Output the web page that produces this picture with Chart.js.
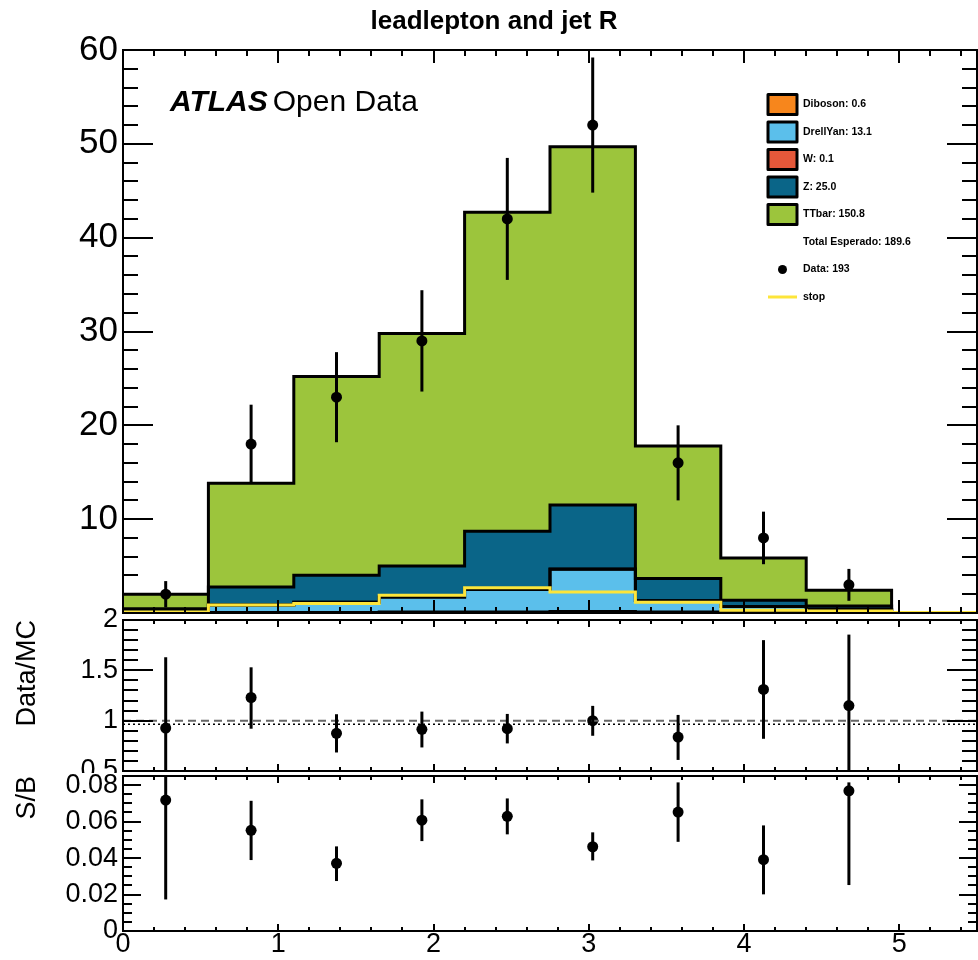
<!DOCTYPE html>
<html>
<head>
<meta charset="utf-8">
<script src="https://cdn.jsdelivr.net/npm/chart.js@4/dist/chart.umd.min.js"></script>
<style>
html,body{margin:0;padding:0;background:#fff;}
#wrap{position:relative;width:978px;height:960px;overflow:hidden;background:#fff;}
canvas{position:absolute;left:0;}
</style>
</head>
<body>
<div id="wrap">
<canvas id="cMain" width="978" height="614" style="top:0px"></canvas>
<canvas id="cRatio" width="978" height="176" style="top:600px"></canvas>
<canvas id="cSB" width="978" height="187" style="top:773px"></canvas>
</div>
<script>
// ---------------- data ----------------
const plotTitle = 'leadlepton and jet R';
const binEdges  = [0, 0.55, 1.1, 1.65, 2.2, 2.75, 3.3, 3.85, 4.4, 4.95, 5.5];

const diboson  = [0, 0.05, 0.05, 0.1, 0.1, 0.15, 0.1, 0.05, 0, 0];
const drellYan = [0.1, 0.8, 1.1, 1.6, 2.4, 4.5, 1.2, 0.65, 0.4, 0];
const wJets    = [0, 0, 0, 0, 0.05, 0.05, 0, 0, 0, 0];
const zJets    = [0.35, 1.93, 2.88, 3.3, 6.15, 6.8, 2.37, 0.66, 0.35, 0];
const ttbar    = [1.55, 11.06, 21.17, 24.8, 34.0, 38.2, 14.13, 4.49, 1.68, 0];
const stopSig  = [0.1, 0.85, 1.0, 1.9, 2.7, 2.25, 1.15, 0.3, 0.2, 0.05];

const dataCounts = [2, 18, 23, 29, 42, 52, 16, 8, 3];
const dataErrLo  = [0.6, 13.8, 18.2, 23.6, 35.5, 44.8, 12.0, 5.2, 1.3];
const dataErrHi  = [3.4, 22.2, 27.8, 34.4, 48.5, 59.2, 20.0, 10.8, 4.7];

const ratioVals = [0.927, 1.23, 0.874, 0.914, 0.92, 1.0, 0.837, 1.31, 1.15];
const ratioLo   = [0.2, 0.92, 0.684, 0.734, 0.774, 0.85, 0.61, 0.82, 0.44];
const ratioHi   = [1.63, 1.53, 1.064, 1.09, 1.067, 1.147, 1.057, 1.80, 1.855];
const ratioRef  = 1;
const mcOverData = 0.964;

const sbVals = [0.0718, 0.0552, 0.0371, 0.0608, 0.0629, 0.0462, 0.0652, 0.0391, 0.0769];
const sbLo   = [0.0173, 0.0389, 0.0274, 0.0493, 0.053, 0.0387, 0.0489, 0.0201, 0.0252];
const sbHi   = [0.126, 0.0714, 0.0464, 0.0722, 0.0727, 0.0541, 0.0815, 0.0579, 0.0815];

const legendLabels = ['Diboson', 'DrellYan', 'W', 'Z', 'TTbar'];
const legendTotals = ['0.6', '13.1', '0.1', '25.0', '150.8'];
const totalExpected = '189.6';
const dataTotal = '193';

const yMainTicks = [0, 60, 10];
const yRatioTicks = [0.5, 2, 0.5];
const ySBTicks = [0, 0.085, 0.02];
const xTicks = [0, 5.5, 1];

// ---------------- styles ----------------
const FONT = '"Liberation Sans", Arial, Helvetica, sans-serif';
const colors = ['#f7861c', '#5bbfeb', '#e5583a', '#0a6588', '#9cc53c'];
const stopColor = '#fde53a';

function stepPoints(vals){ return binEdges.map((e,i)=>({x:e, y: vals[Math.min(i, vals.length-1)]})); }
function centerPoints(vals){ return vals.map((v,i)=>({x:(binEdges[i]+binEdges[i+1])/2, y:v})); }
function fmt(v){ return String(+v.toFixed(4)); }

const bgPlugin = {id:'bg', beforeDraw(chart, args, o){
  if(!o || !o.color) return;
  const c = chart.ctx; c.save(); c.fillStyle = o.color; c.fillRect(0,0,chart.width,chart.height); c.restore();
}};

const errPlugin = {id:'errbars', afterDatasetsDraw(chart){
  const {ctx, chartArea:a, scales} = chart;
  ctx.save();
  ctx.beginPath(); ctx.rect(a.left, a.top, a.right-a.left, a.bottom-a.top); ctx.clip();
  ctx.strokeStyle = '#000'; ctx.lineWidth = 3;
  chart.data.datasets.forEach(ds=>{
    if(!ds.errLo) return;
    const ys = scales.y, xs = scales.x;
    ds.data.forEach((p,i)=>{
      const px = xs.getPixelForValue(p.x);
      ctx.beginPath();
      ctx.moveTo(px, ys.getPixelForValue(ds.errLo[i]));
      ctx.lineTo(px, ys.getPixelForValue(ds.errHi[i]));
      ctx.stroke();
    });
  });
  ctx.restore();
}};

const framePlugin = {id:'frame', afterDatasetsDraw(chart, args, o){
  const {ctx, chartArea:a, scales:{x, y}} = chart;
  ctx.save(); ctx.strokeStyle = '#000'; ctx.lineWidth = 2;
  ctx.beginPath();
  const nx = Math.round((x.max - x.min)/o.xMinor);
  for(let k=0;k<=nx;k++){
    const v = x.min + k*o.xMinor;
    const maj = Math.abs(v/o.xMajor - Math.round(v/o.xMajor)) < 1e-6;
    const L = maj ? o.xMajorLen : o.xMinorLen;
    const px = Math.round(x.getPixelForValue(v));
    ctx.moveTo(px, a.bottom); ctx.lineTo(px, a.bottom - L);
    ctx.moveTo(px, a.top); ctx.lineTo(px, a.top + L);
  }
  const ny = Math.round((y.max - y.min)/o.yMinor);
  for(let k=0;k<=ny;k++){
    const v = y.min + k*o.yMinor;
    const maj = Math.abs(v/o.yMajor - Math.round(v/o.yMajor)) < 1e-6;
    const L = maj ? o.yMajorLen : o.yMinorLen;
    const py = Math.round(y.getPixelForValue(v));
    ctx.moveTo(a.left, py); ctx.lineTo(a.left + L, py);
    ctx.moveTo(a.right, py); ctx.lineTo(a.right - L, py);
  }
  ctx.stroke();
  ctx.strokeRect(a.left, a.top, a.right-a.left, a.bottom-a.top);
  ctx.restore();
}};

const decorPlugin = {id:'decor', afterDraw(chart){
  const ctx = chart.ctx;
  ctx.save();
  ctx.fillStyle = '#000';
  ctx.font = 'bold 26px ' + FONT; ctx.textAlign = 'center'; ctx.textBaseline = 'alphabetic';
  ctx.fillText(plotTitle, 494, 29);
  ctx.textAlign = 'left';
  ctx.font = 'italic bold 30px ' + FONT;
  ctx.fillText('ATLAS', 170, 111);
  const w = ctx.measureText('ATLAS').width;
  ctx.font = '30px ' + FONT;
  ctx.fillText('Open Data', 170 + w + 5, 111);
  // legend
  const rowY = [104.5, 132, 159.5, 187, 214.5, 242, 269.5, 297];
  ctx.font = 'bold 10.5px ' + FONT; ctx.textBaseline = 'middle';
  legendLabels.forEach((lab,i)=>{
    const yy = rowY[i];
    ctx.fillStyle = colors[i]; ctx.fillRect(768, yy-10, 29, 20);
    ctx.strokeStyle = '#000'; ctx.lineWidth = 3; ctx.lineJoin = 'round';
    ctx.strokeRect(768, yy-10, 29, 20);
    ctx.fillStyle = '#000';
    ctx.fillText(lab + ': ' + legendTotals[i], 803, yy);
  });
  ctx.fillText('Total Esperado: ' + totalExpected, 803, rowY[5]);
  ctx.beginPath(); ctx.arc(782.5, rowY[6], 4.5, 0, 2*Math.PI); ctx.fill();
  ctx.fillText('Data: ' + dataTotal, 803, rowY[6]);
  ctx.strokeStyle = stopColor; ctx.lineWidth = 3;
  ctx.beginPath(); ctx.moveTo(768, rowY[7]); ctx.lineTo(797, rowY[7]); ctx.stroke();
  ctx.fillStyle = '#000';
  ctx.fillText('stop', 803, rowY[7]);
  ctx.restore();
}};

function mcDs(label, vals, color, fill){
  return {label, data: stepPoints(vals), stepped: true, borderColor:'#000', borderWidth:3,
          backgroundColor: color, fill, pointRadius:0, stack:'mc', order:5};
}
function yTickOpts(size, step){
  return {stepSize: step, includeBounds:false, padding:5, color:'#000',
          font:{family:FONT, size:size, lineHeight:1}, callback: v => fmt(v)};
}
const noGrid = {display:false, drawTicks:false};

// ---------------- main panel ----------------
new Chart(document.getElementById('cMain'), {
  type:'line',
  data:{datasets:[
    mcDs('Diboson', diboson, colors[0], 'origin'),
    mcDs('DrellYan', drellYan, colors[1], '-1'),
    mcDs('W', wJets, colors[2], '-1'),
    mcDs('Z', zJets, colors[3], '-1'),
    mcDs('TTbar', ttbar, colors[4], '-1'),
    {label:'stop', data: stepPoints(stopSig), stepped:true, borderColor: stopColor, borderWidth:3,
     pointRadius:0, fill:false, stack:'stop', order:1},
    {label:'Data', data: centerPoints(dataCounts), showLine:false, pointRadius:5.5,
     pointBackgroundColor:'#000', pointBorderWidth:0, fill:false, stack:'data', order:0,
     errLo: dataErrLo, errHi: dataErrHi}
  ]},
  options:{
    responsive:false, animation:false, events:[],
    layout:{autoPadding:false, padding:{top:50, right:1, bottom:1, left:0}},
    plugins:{
      legend:{display:false}, tooltip:{enabled:false},
      filler:{drawTime:'beforeDatasetsDraw'},
      bg:{color:'#fff'},
      frame:{xMinor:0.2, xMajor:1, xMinorLen:6, xMajorLen:13, yMinor:2, yMajor:10, yMinorLen:15, yMajorLen:30}
    },
    scales:{
      x:{type:'linear', min:xTicks[0], max:xTicks[1], display:false},
      y:{type:'linear', min:yMainTicks[0], max:yMainTicks[1], stacked:true,
         grid:noGrid, border:{display:false},
         ticks:Object.assign(yTickOpts(35, yMainTicks[2]), {callback: v => v === 0 ? '' : fmt(v)}),
         afterFit: s => { s.width = 123; s.paddingTop = 0; s.paddingBottom = 0; }}
    }
  },
  plugins:[bgPlugin, errPlugin, framePlugin, decorPlugin]
});

// ---------------- ratio panel ----------------
new Chart(document.getElementById('cRatio'), {
  type:'line',
  data:{datasets:[
    {data:[{x:xTicks[0], y:ratioRef},{x:xTicks[1], y:ratioRef}], borderColor:'#666', borderWidth:2,
     borderDash:[8,5], pointRadius:0, fill:false},
    {data:[{x:xTicks[0], y:mcOverData},{x:xTicks[1], y:mcOverData}], borderColor:'#000', borderWidth:1.5,
     borderDash:[2,3], pointRadius:0, fill:false},
    {data: centerPoints(ratioVals), showLine:false, pointRadius:5.5, pointBackgroundColor:'#000',
     pointBorderWidth:0, fill:false, errLo: ratioLo, errHi: ratioHi}
  ]},
  options:{
    responsive:false, animation:false, events:[],
    layout:{autoPadding:false, padding:{top:20, right:1, bottom:5, left:0}},
    plugins:{
      legend:{display:false}, tooltip:{enabled:false},
      frame:{xMinor:0.2, xMajor:1, xMinorLen:4, xMajorLen:7, yMinor:0.1, yMajor:0.5, yMinorLen:15, yMajorLen:30}
    },
    scales:{
      x:{type:'linear', min:xTicks[0], max:xTicks[1], display:false},
      y:{type:'linear', min:yRatioTicks[0], max:yRatioTicks[1],
         grid:noGrid, border:{display:false},
         ticks: yTickOpts(27, yRatioTicks[2]),
         title:{display:true, text:'Data/MC', align:'end', color:'#000',
                font:{family:FONT, size:27, lineHeight:1}, padding:{top:14, bottom:0}},
         afterFit: s => { s.width = 123; s.paddingTop = 0; s.paddingBottom = 0; }}
    }
  },
  plugins:[errPlugin, framePlugin]
});

// ---------------- S/B panel ----------------
new Chart(document.getElementById('cSB'), {
  type:'line',
  data:{datasets:[
    {data: centerPoints(sbVals), showLine:false, pointRadius:5.5, pointBackgroundColor:'#000',
     pointBorderWidth:0, fill:false, errLo: sbLo, errHi: sbHi}
  ]},
  options:{
    responsive:false, animation:false, events:[],
    layout:{autoPadding:false, padding:{top:3, right:1, bottom:0, left:0}},
    plugins:{
      legend:{display:false}, tooltip:{enabled:false},
      bg:{color:'#fff'},
      frame:{xMinor:0.2, xMajor:1, xMinorLen:4, xMajorLen:7, yMinor:0.005, yMajor:0.02, yMinorLen:9, yMajorLen:18}
    },
    scales:{
      x:{type:'linear', min:xTicks[0], max:xTicks[1], grid:noGrid, border:{display:false},
         ticks:{stepSize:xTicks[2], includeBounds:false, padding:0, color:'#000', maxRotation:0, autoSkip:false,
                font:{family:FONT, size:27, lineHeight:1}, callback: v => fmt(v)},
         afterFit: s => { s.height = 29; s.paddingLeft = 0; s.paddingRight = 0; }},
      y:{type:'linear', min:ySBTicks[0], max:ySBTicks[1],
         grid:noGrid, border:{display:false},
         ticks: yTickOpts(27, ySBTicks[2]),
         title:{display:true, text:'S/B', align:'end', color:'#000',
                font:{family:FONT, size:27, lineHeight:1}, padding:{top:14, bottom:0}},
         afterFit: s => { s.width = 123; s.paddingTop = 0; s.paddingBottom = 0; }}
    }
  },
  plugins:[bgPlugin, errPlugin, framePlugin]
});
</script>
</body>
</html>
